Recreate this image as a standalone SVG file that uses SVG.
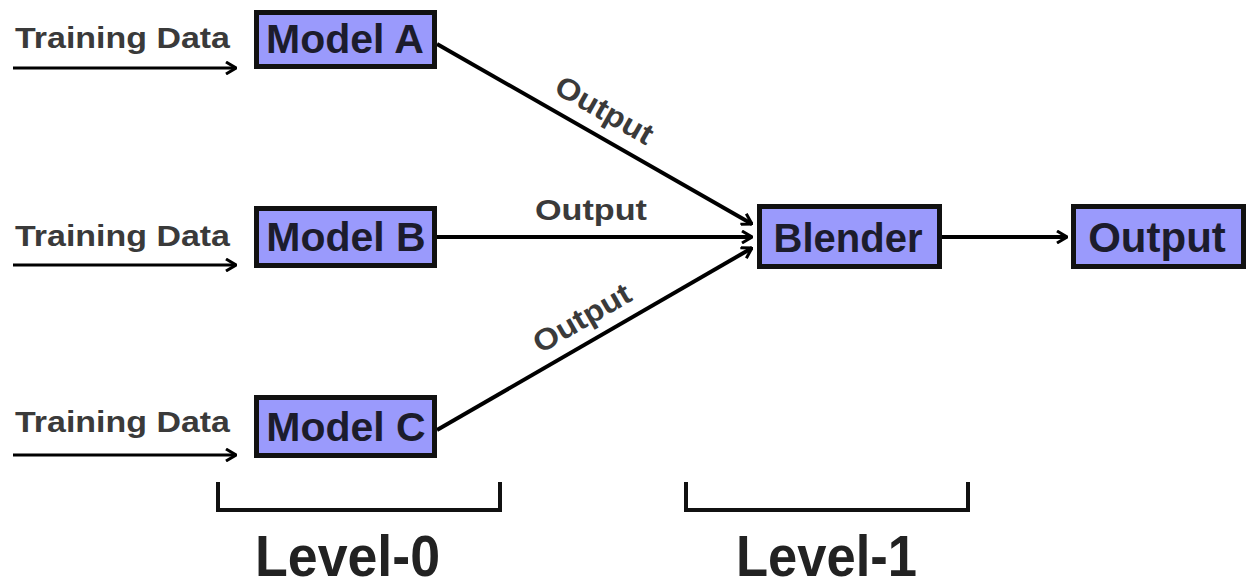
<svg xmlns="http://www.w3.org/2000/svg" width="1247" height="586" viewBox="0 0 1247 586">
<style>
.box{fill:#9a9afc;stroke:#111;stroke-width:5}
.bt{font-family:"Liberation Sans",Arial,sans-serif;font-weight:bold;fill:#1c1c2c;text-anchor:middle}
.td{font-family:"Liberation Sans",Arial,sans-serif;font-weight:bold;font-size:30px;fill:#3a3a3a}
.ol{font-family:"Liberation Sans",Arial,sans-serif;font-weight:bold;font-size:30px;fill:#3a3a3a;text-anchor:middle}
.lv{font-family:"Liberation Sans",Arial,sans-serif;font-weight:bold;font-size:58px;fill:#222}
.ln{stroke:#000;stroke-width:4;fill:none}
.tl{stroke:#000;stroke-width:3;fill:none}
.br{stroke:#111;stroke-width:4;fill:none}
</style>
<defs>
<marker id="ah" viewBox="0 0 12 14" refX="11" refY="7" markerWidth="12" markerHeight="14" markerUnits="userSpaceOnUse" orient="auto">
<path d="M1,1 L11,7 L1,13" fill="none" stroke="#000" stroke-width="3" stroke-linejoin="miter"/>
</marker>
</defs>
<rect width="1247" height="586" fill="#fff"/>
<g id="connectors">
<line class="tl" x1="13" y1="68" x2="236" y2="68" marker-end="url(#ah)"/>
<line class="tl" x1="13" y1="265" x2="236" y2="265" marker-end="url(#ah)"/>
<line class="tl" x1="13" y1="455" x2="236" y2="455" marker-end="url(#ah)"/>
<line class="ln" x1="437" y1="44" x2="752" y2="224" marker-end="url(#ah)"/>
<line class="ln" x1="437" y1="237" x2="752" y2="237" marker-end="url(#ah)"/>
<line class="ln" x1="437" y1="430" x2="752" y2="248" marker-end="url(#ah)"/>
<line class="ln" x1="942" y1="237" x2="1067" y2="237" marker-end="url(#ah)"/>
<g transform="translate(592,132) rotate(29.7)"><text class="ol" x="0" y="-15" textLength="108" lengthAdjust="spacingAndGlyphs">Output</text></g>
<text class="ol" x="591" y="220" textLength="112" lengthAdjust="spacingAndGlyphs">Output</text>
<g transform="translate(594,339) rotate(-30)"><text class="ol" x="0" y="-14" textLength="108" lengthAdjust="spacingAndGlyphs">Output</text></g>
</g>
<g id="train-a"><text class="td" x="15" y="48" textLength="215" lengthAdjust="spacingAndGlyphs">Training Data</text></g>
<g id="train-b"><text class="td" x="15" y="246" textLength="215" lengthAdjust="spacingAndGlyphs">Training Data</text></g>
<g id="train-c"><text class="td" x="15" y="432" textLength="215" lengthAdjust="spacingAndGlyphs">Training Data</text></g>
<g id="model-a"><rect class="box" x="256.5" y="12.5" width="178" height="54"/><text class="bt" x="345" y="53" font-size="41">Model A</text></g>
<g id="model-b"><rect class="box" x="256.5" y="208.5" width="178" height="57"/><text class="bt" x="346" y="251" font-size="41">Model B</text></g>
<g id="model-c"><rect class="box" x="256.5" y="397.5" width="178" height="58"/><text class="bt" x="346" y="441" font-size="41">Model C</text></g>
<g id="blender"><rect class="box" x="759.5" y="206.5" width="180" height="60"/><text class="bt" x="848" y="252" font-size="40">Blender</text></g>
<g id="output"><rect class="box" x="1073.5" y="206.5" width="170" height="60"/><text class="bt" x="1157" y="252" font-size="42">Output</text></g>
<g id="level-0">
<path class="br" d="M218,482 V510 H500 V482"/>
<text class="lv" x="255" y="576" textLength="185" lengthAdjust="spacingAndGlyphs">Level-0</text>
</g>
<g id="level-1">
<path class="br" d="M686,482 V510 H968 V482"/>
<text class="lv" x="736" y="576" textLength="181" lengthAdjust="spacingAndGlyphs">Level-1</text>
</g>
</svg>
